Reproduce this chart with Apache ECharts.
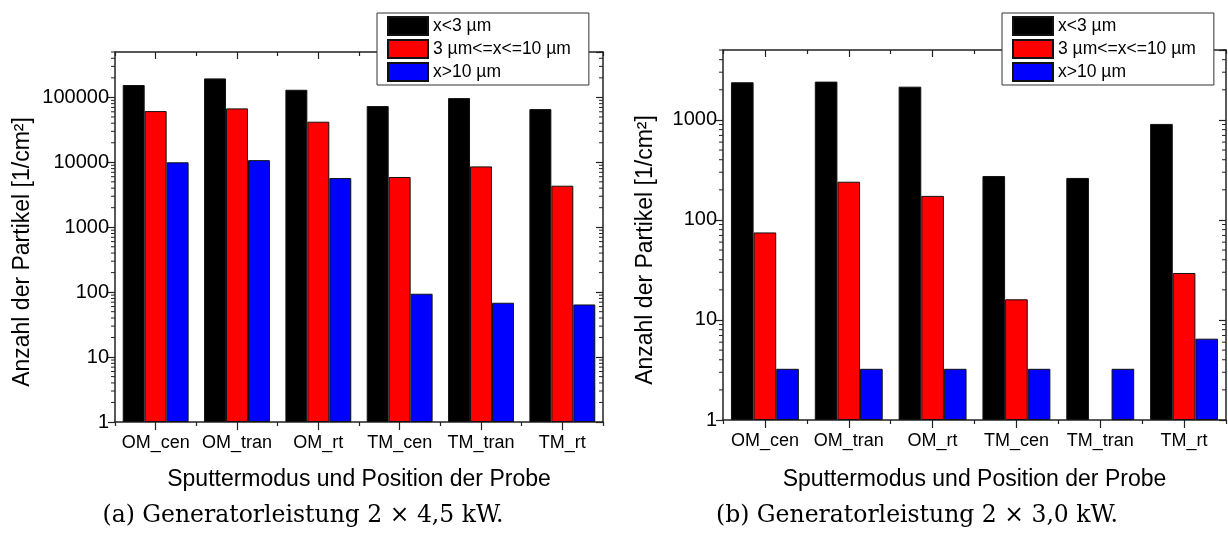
<!DOCTYPE html>
<html><head><meta charset="utf-8">
<script src="https://cdn.jsdelivr.net/npm/echarts@6/dist/echarts.min.js"></script>
<style>html,body{margin:0;padding:0;background:#fff}#c{width:1228px;height:535px}</style>
</head><body><div id="c"></div>
<script>
const categories = ['OM_cen', 'OM_tran', 'OM_rt', 'TM_cen', 'TM_tran', 'TM_rt'];
const seriesNames = ['x<3 µm', '3 µm<=x<=10 µm', 'x>10 µm'];
const seriesColors = ['#000000', '#ff0000', '#0000ff'];

// (a) Generatorleistung 2 × 4,5 kW
const smallA = [155000, 196000, 131000, 73500, 97500, 66000];
const midA   = [61500, 67700, 42200, 5940, 8650, 4360];
const largeA = [10000, 10800, 5720, 94.5, 68.7, 64.6];

// (b) Generatorleistung 2 × 3,0 kW
const smallB = [2380, 2415, 2150, 275, 263, 912];
const midB   = [75, 241, 174, 16.1, null, 29.5];
const largeB = [3.25, 3.25, 3.25, 3.25, 3.25, 6.5];

const yRangeA = [1, 500000];
const yRangeB = [1, 5000];

const xTitle = 'Sputtermodus und Position der Probe';
const yTitle = 'Anzahl der Partikel [1/cm²]';
const captions = ['(a) Generatorleistung 2 × 4,5 kW.', '(b) Generatorleistung 2 × 3,0 kW.'];

const FONT = '"Liberation Sans", Arial, sans-serif';
const AX = '#222';

function minorValues(range) {
  const out = [];
  for (let e = 0; Math.pow(10, e) < range[1]; e++) {
    for (let m = 2; m <= 9; m++) {
      const v = m * Math.pow(10, e);
      if (v <= range[1]) out.push([0, v]);
    }
  }
  return out;
}

function xAxesFor(gi, nameGap) {
  const base = { gridIndex: gi, type: 'category', data: categories, boundaryGap: true };
  const line = { show: true, onZero: false, lineStyle: { color: AX, width: 1.5 } };
  const tickStyle = { color: AX, width: 1.2 };
  return [
    Object.assign({}, base, {
      position: 'bottom', axisLine: line,
      axisTick: { show: true, alignWithLabel: true, interval: 0, length: 8, lineStyle: tickStyle },
      axisLabel: { interval: 0, fontSize: 18, color: '#000', margin: 12, fontFamily: FONT },
      name: xTitle, nameLocation: 'middle', nameGap: nameGap,
      nameTextStyle: { fontSize: 23, color: '#000', fontFamily: FONT }
    }),
    Object.assign({}, base, {
      position: 'bottom', axisLine: { show: false },
      axisTick: { show: true, interval: 0, length: 4, lineStyle: tickStyle },
      axisLabel: { show: false }
    }),
    Object.assign({}, base, {
      position: 'top', axisLine: line,
      axisTick: { show: true, alignWithLabel: true, interval: 0, inside: true, length: 7, lineStyle: tickStyle },
      axisLabel: { show: false }
    }),
    Object.assign({}, base, {
      position: 'top', axisLine: { show: false },
      axisTick: { show: true, interval: 0, inside: true, length: 4, lineStyle: tickStyle },
      axisLabel: { show: false }
    })
  ];
}

function yAxesFor(gi, range, nameGap) {
  const line = { show: true, onZero: false, lineStyle: { color: AX, width: 1.5 } };
  const tickStyle = { color: AX, width: 1.2 };
  return [
    {
      gridIndex: gi, type: 'log', logBase: 10, min: range[0], max: range[1], position: 'left',
      axisLine: line, splitLine: { show: false },
      axisTick: { show: true, length: 7, lineStyle: tickStyle },
      axisLabel: { fontSize: 20, color: '#000', margin: 6, fontFamily: FONT, showMaxLabel: false,
                   formatter: function (v) { return String(Math.round(v)); } },
      name: yTitle, nameLocation: 'middle', nameGap: nameGap, nameRotate: 90,
      nameTextStyle: { fontSize: 23, color: '#000', fontFamily: FONT, padding: [0, 30, 0, 0] }
    },
    {
      gridIndex: gi, type: 'log', logBase: 10, min: range[0], max: range[1], position: 'right', z: 5,
      axisLine: line, splitLine: { show: false },
      axisTick: { show: true, inside: true, length: 7, lineStyle: tickStyle },
      axisLabel: { show: false }
    }
  ];
}

function barSeries(gi, arrays) {
  return arrays.map((vals, i) => ({
    type: 'bar', name: seriesNames[i],
    xAxisIndex: gi * 4, yAxisIndex: gi * 2,
    data: vals,
    barGap: '0%', barCategoryGap: '19%',
    itemStyle: { color: seriesColors[i], borderColor: '#111', borderWidth: 1 },
    emphasis: { disabled: true }, animation: false
  }));
}

function minorTickSeries(gi, range) {
  return {
    type: 'custom', xAxisIndex: gi * 4, yAxisIndex: gi * 2, z: 10, silent: true, animation: false,
    data: minorValues(range), encode: { x: 0, y: 1 }, clip: false,
    renderItem: function (params, api) {
      const cs = params.coordSys;
      const y = api.coord([0, api.value(1)])[1];
      const st = { stroke: AX, lineWidth: 1 };
      return {
        type: 'group', children: [
          { type: 'line', shape: { x1: cs.x - 4, y1: y, x2: cs.x, y2: y }, style: st },
          { type: 'line', shape: { x1: cs.x + cs.width - 4, y1: y, x2: cs.x + cs.width, y2: y }, style: st }
        ]
      };
    }
  };
}

function legendFor(left) {
  return {
    data: seriesNames, orient: 'vertical', left: left, top: 13,
    itemWidth: 40, itemHeight: 18, itemGap: 3, icon: 'rect',
    padding: [3, 18, 3, 10],
    backgroundColor: '#fff', borderColor: '#333', borderWidth: 1, borderRadius: 0,
    textStyle: { fontSize: 17.5, color: '#000', fontFamily: FONT, lineHeight: 18 },
    selectedMode: false, z: 20
  };
}

const chart = echarts.init(document.getElementById('c'), null, { renderer: 'canvas' });
chart.setOption({
  animation: false,
  backgroundColor: '#fff',
  grid: [
    { left: 115, top: 52, width: 488, height: 370 },
    { left: 723, top: 50, width: 503, height: 370 }
  ],
  xAxis: xAxesFor(0, 46).concat(xAxesFor(1, 48)),
  yAxis: yAxesFor(0, yRangeA, 81).concat(yAxesFor(1, yRangeB, 66)),
  legend: [legendFor(377), legendFor(1002)],
  series: barSeries(0, [smallA, midA, largeA])
    .concat(barSeries(1, [smallB, midB, largeB]))
    .concat([minorTickSeries(0, yRangeA), minorTickSeries(1, yRangeB)]),
  graphic: [
    { type: 'text', x: 303, y: 516, style: { text: captions[0], font: '23.5px "DejaVu Serif", serif', fill: '#000', textAlign: 'center', textVerticalAlign: 'middle' } },
    { type: 'text', x: 917, y: 516, style: { text: captions[1], font: '23.5px "DejaVu Serif", serif', fill: '#000', textAlign: 'center', textVerticalAlign: 'middle' } }
  ]
});
</script>
</body></html>
